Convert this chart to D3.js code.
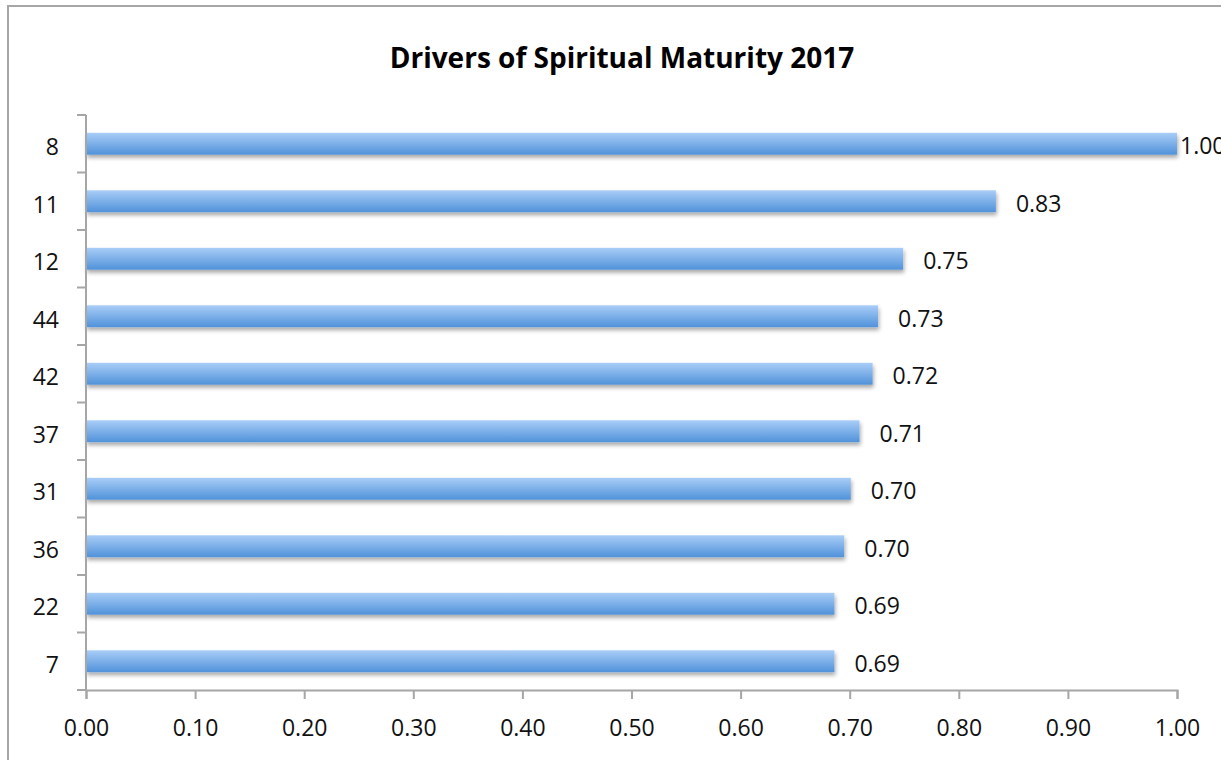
<!DOCTYPE html>
<html>
<head>
<meta charset="utf-8">
<script src="https://cdn.jsdelivr.net/npm/d3@7"></script>
<style>
  body { margin: 0; background: #fff; }
  svg { display: block; font-family: "Open Sans", "Noto Sans", sans-serif; }
</style>
</head>
<body>
<svg id="chart" width="1221" height="760"></svg>
<script>
var categories = ['8', '11', '12', '44', '42', '37', '31', '36', '22', '7'];
var values = [1.00, 0.834, 0.749, 0.726, 0.721, 0.709, 0.701, 0.695, 0.686, 0.686];
var valueLabels = ['1.00', '0.83', '0.75', '0.73', '0.72', '0.71', '0.70', '0.70', '0.69', '0.69'];
var xTicks = [0, 0.1, 0.2, 0.3, 0.4, 0.5, 0.6, 0.7, 0.8, 0.9, 1.0];

var AXIS_COLOR = '#a6a6a6';
var LABEL_SIZE = 23;
var svg = d3.select('#chart');

// outer chart border (cut off at right and bottom like the reference)
svg.append('rect')
    .attr('x', 8).attr('y', 6)
    .attr('width', 1260).attr('height', 800)
    .attr('fill', 'none').attr('stroke', AXIS_COLOR).attr('stroke-width', 2);

var defs = svg.append('defs');
var grad = defs.append('linearGradient').attr('id', 'barGrad')
    .attr('x1', 0).attr('y1', 0).attr('x2', 0).attr('y2', 1);
grad.append('stop').attr('offset', '0%').attr('stop-color', '#a9cdf7');
grad.append('stop').attr('offset', '100%').attr('stop-color', '#5092da');

var shadow = defs.append('filter').attr('id', 'shadow')
    .attr('x', '-5%').attr('y', '-50%').attr('width', '110%').attr('height', '250%');
shadow.append('feGaussianBlur').attr('in', 'SourceAlpha').attr('stdDeviation', 2);
shadow.append('feOffset').attr('dx', 1).attr('dy', 3).attr('result', 'off');
shadow.append('feComponentTransfer').append('feFuncA').attr('type', 'linear').attr('slope', 0.35);
var merge = shadow.append('feMerge');
merge.append('feMergeNode');
merge.append('feMergeNode').attr('in', 'SourceGraphic');

var plotLeft = 86, plotRight = 1177, plotTop = 115, plotBottom = 690;
var x = d3.scaleLinear().domain([0, 1]).range([plotLeft, plotRight]);
var y = d3.scaleBand().domain(categories).range([plotTop, plotBottom]).paddingInner(0.62).paddingOuter(0.31);

svg.append('text')
    .attr('x', 622).attr('y', 68)
    .attr('text-anchor', 'middle')
    .attr('font-weight', 'bold').attr('font-size', 28)
    .text('Drivers of Spiritual Maturity 2017');

// bars
svg.append('g').selectAll('rect')
    .data(values).enter().append('rect')
    .attr('x', x(0))
    .attr('y', function (d, i) { return y(categories[i]); })
    .attr('width', function (d) { return x(d) - x(0); })
    .attr('height', y.bandwidth())
    .attr('fill', 'url(#barGrad)')
    .attr('filter', 'url(#shadow)');

// value labels
svg.append('g').selectAll('text')
    .data(values).enter().append('text')
    .attr('x', function (d) { return Math.min(x(d) + 20, plotRight + 3); })
    .attr('y', function (d, i) { return y(categories[i]) + y.bandwidth() / 2; })
    .attr('dy', '0.45em')
    .attr('font-size', LABEL_SIZE)
    .attr('fill', '#111')
    .text(function (d, i) { return valueLabels[i]; });

// y axis with ticks between categories
var yAxis = svg.append('g');
yAxis.append('line')
    .attr('x1', plotLeft).attr('x2', plotLeft).attr('y1', plotTop).attr('y2', plotBottom)
    .attr('stroke', AXIS_COLOR).attr('stroke-width', 2);
var step = (plotBottom - plotTop) / categories.length;
yAxis.selectAll('line.tick')
    .data(d3.range(categories.length + 1)).enter().append('line')
    .attr('class', 'tick')
    .attr('x1', plotLeft - 9).attr('x2', plotLeft)
    .attr('y1', function (i) { return plotTop + i * step; })
    .attr('y2', function (i) { return plotTop + i * step; })
    .attr('stroke', AXIS_COLOR).attr('stroke-width', 2);
yAxis.selectAll('text')
    .data(categories).enter().append('text')
    .attr('x', 59)
    .attr('y', function (d) { return y(d) + y.bandwidth() / 2; })
    .attr('dy', '0.5em')
    .attr('text-anchor', 'end')
    .attr('font-size', LABEL_SIZE)
    .attr('fill', '#111')
    .text(function (d) { return d; });

// x axis
var xAxis = svg.append('g').attr('transform', 'translate(0,' + plotBottom + ')')
    .call(d3.axisBottom(x).tickValues(xTicks).tickFormat(d3.format('.2f')).tickSize(9).tickPadding(21));
xAxis.select('.domain').attr('stroke', AXIS_COLOR).attr('stroke-width', 2);
xAxis.selectAll('.tick line').attr('stroke', AXIS_COLOR).attr('stroke-width', 2);
xAxis.selectAll('.tick text')
    .attr('font-size', LABEL_SIZE)
    .attr('font-family', '"Open Sans", "Noto Sans", sans-serif')
    .attr('fill', '#111');
</script>
</body>
</html>
